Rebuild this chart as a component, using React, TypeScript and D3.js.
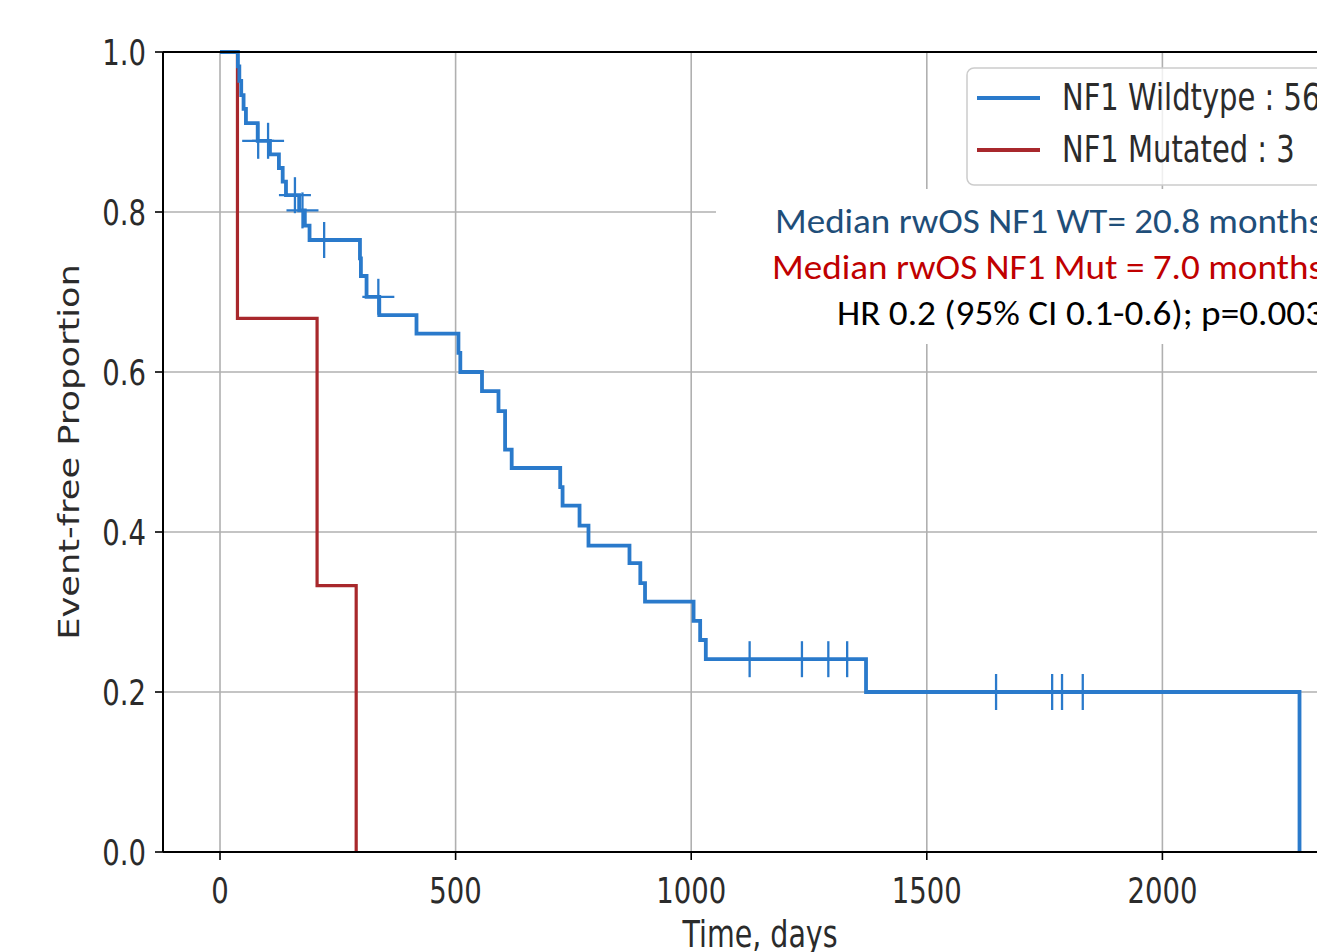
import React from "react";
import * as d3 from "d3";

// ---- Data ----
// NF1 Wildtype KM steps: event time (days) and survival after the step
const wtTimes = [0, 38, 41, 45, 50, 55, 80, 106, 125, 133, 140, 168, 180, 190, 297, 299, 311, 338, 417, 506, 510, 556, 591, 605, 619, 722, 727, 763, 782, 869, 892, 902, 1005, 1019, 1031, 1371, 2291];
const wtSurv = [1.0, 0.982, 0.964, 0.946, 0.929, 0.911, 0.889, 0.872, 0.855, 0.838, 0.821, 0.802, 0.783, 0.765, 0.742, 0.72, 0.694, 0.671, 0.648, 0.624, 0.6, 0.576, 0.551, 0.503, 0.48, 0.456, 0.433, 0.408, 0.383, 0.361, 0.336, 0.313, 0.289, 0.265, 0.241, 0.2, 0.0];
const wtCensor = [81, 102, 159, 175, 221, 336, 1124, 1235, 1291, 1331, 1647, 1766, 1787, 1831];

// NF1 Mutated KM steps
const mutTimes = [0, 37, 206, 289];
const mutSurv = [1.0, 0.667, 0.333, 0.0];

const xTicks = [0, 500, 1000, 1500, 2000, 2500];
const yTicks = [0, 0.2, 0.4, 0.6, 0.8, 1.0];

const legendLabels = ["NF1 Wildtype : 56", "NF1 Mutated : 3"];
const annotLines = [
  "Median rwOS NF1 WT= 20.8 months",
  "Median rwOS NF1 Mut = 7.0 months",
  "HR 0.2 (95% CI 0.1-0.6); p=0.003",
];

const W = 1317;
const H = 952;
const BLUE = "#2a7acb";
const RED = "#a8282c";
const DJ = "'DejaVu Sans', sans-serif";
const SY = 1.28; // vertical stretch of the original image's text

export default function App() {
  const x = d3.scaleLinear().domain([-121, 2413]).range([163, 1357]);
  const y = d3.scaleLinear().domain([0, 1]).range([852, 52]);
  const line = d3
    .line<[number, number]>()
    .x((d) => x(d[0]))
    .y((d) => y(d[1]))
    .curve(d3.curveStepAfter);

  const wtPts = wtTimes.map((t, i) => [t, wtSurv[i]] as [number, number]);
  const mutPts = mutTimes.map((t, i) => [t, mutSurv[i]] as [number, number]);

  const survAt = (t: number) => {
    let s = 1;
    for (let i = 0; i < wtTimes.length; i++) if (wtTimes[i] <= t) s = wtSurv[i];
    return s;
  };

  const left = 163;
  const top = 52;
  const bottom = 852;
  const right = 1357;
  const visibleX = xTicks.filter((t) => x(t) < W);

  return (
    <svg
      width={W}
      height={H}
      style={{ position: "absolute", left: 0, top: 0, background: "#fff" }}
    >
      <rect x={0} y={0} width={W} height={H} fill="#fff" />
      {/* grid */}
      {visibleX.map((t) => (
        <line key={"gx" + t} x1={x(t)} x2={x(t)} y1={top} y2={bottom} stroke="#b0b0b0" strokeWidth={1.6} />
      ))}
      {yTicks.map((t) => (
        <line key={"gy" + t} x1={left} x2={right} y1={y(t)} y2={y(t)} stroke="#b0b0b0" strokeWidth={1.6} />
      ))}

      {/* curves */}
      <path d={line(mutPts) || ""} fill="none" stroke={RED} strokeWidth={3.2} />
      <path d={line(wtPts) || ""} fill="none" stroke={BLUE} strokeWidth={3.8} />
      {wtCensor.map((c, i) => {
        const cx = x(c);
        const cy = y(survAt(c));
        return (
          <g key={"c" + i} stroke={BLUE} strokeWidth={2.3}>
            <line x1={cx - 16} x2={cx + 16} y1={cy} y2={cy} />
            <line x1={cx} x2={cx} y1={cy - 18} y2={cy + 18} />
          </g>
        );
      })}

      {/* spines */}
      <line x1={left} x2={left} y1={top} y2={bottom} stroke="#000" strokeWidth={2} />
      <line x1={left} x2={right} y1={bottom} y2={bottom} stroke="#000" strokeWidth={2} />
      <line x1={left} x2={right} y1={top} y2={top} stroke="#000" strokeWidth={2} />

      {/* ticks + labels */}
      {visibleX.map((t) => (
        <g key={"xt" + t}>
          <line x1={x(t)} x2={x(t)} y1={bottom} y2={bottom + 8} stroke="#000" strokeWidth={1.6} />
          <text
            transform={`translate(${x(t)},903) scale(1,${SY})`}
            textAnchor="middle"
            fontFamily={DJ}
            fontSize={27.5}
            fill="#2b2b2b"
          >
            {t}
          </text>
        </g>
      ))}
      {yTicks.map((t) => (
        <g key={"yt" + t}>
          <line x1={left - 8} x2={left} y1={y(t)} y2={y(t)} stroke="#000" strokeWidth={1.6} />
          <text
            transform={`translate(146,${y(t) + 13}) scale(1,${SY})`}
            textAnchor="end"
            fontFamily={DJ}
            fontSize={27.5}
            fill="#2b2b2b"
          >
            {t.toFixed(1)}
          </text>
        </g>
      ))}
      <text
        transform={`translate(79,452) scale(1,${SY}) rotate(-90)`}
        textAnchor="middle"
        fontFamily={DJ}
        fontSize={27.5}
        fill="#2b2b2b"
      >
        Event-free Proportion
      </text>
      <text
        transform={`translate(760,947) scale(1,${SY})`}
        textAnchor="middle"
        fontFamily={DJ}
        fontSize={28.5}
        fill="#2b2b2b"
      >
        Time, days
      </text>

      {/* legend */}
      <rect x={967} y={68} width={420} height={117} rx={7} fill="#fff" fillOpacity={0.8} stroke="#cccccc" strokeWidth={1.5} />
      {legendLabels.map((lab, i) => {
        const ly = 98 + i * 52;
        return (
          <g key={"lg" + i}>
            <line x1={977} x2={1040} y1={ly} y2={ly} stroke={i === 0 ? BLUE : RED} strokeWidth={4} />
            <text
              transform={`translate(1062,${ly + 12}) scale(1,${SY})`}
              fontFamily={DJ}
              fontSize={29}
              fill="#2b2b2b"
            >
              {lab}
            </text>
          </g>
        );
      })}

      {/* annotation box */}
      <rect x={716} y={189} width={620} height={155} fill="#fff" />
      <text x={775} y={233} fontFamily="Carlito, Lato, 'Open Sans', sans-serif" fontSize={35} fill="#1f4e79" textLength={548} lengthAdjust="spacingAndGlyphs">
        {annotLines[0]}
      </text>
      <text x={772} y={279} fontFamily="Carlito, Lato, 'Open Sans', sans-serif" fontSize={35} fill="#c00000" textLength={551} lengthAdjust="spacingAndGlyphs">
        {annotLines[1]}
      </text>
      <text x={837} y={325} fontFamily="Carlito, Lato, 'Open Sans', sans-serif" fontSize={35} fill="#000" textLength={487} lengthAdjust="spacingAndGlyphs">
        {annotLines[2]}
      </text>
    </svg>
  );
}
